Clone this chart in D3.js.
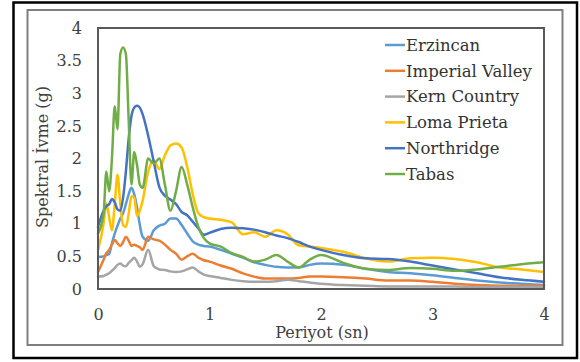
<!DOCTYPE html>
<html>
<head>
<meta charset="utf-8">
<script src="https://cdn.jsdelivr.net/npm/d3@7"></script>
<style>
  html, body { margin: 0; padding: 0; background: #fff; }
  svg { display: block; font-family: "DejaVu Serif", serif; }
</style>
</head>
<body>
<div id="chart"></div>
<script>
// Period grid (sn)
const periods = [0, 0.05, 0.075, 0.1, 0.125, 0.15, 0.175, 0.2, 0.225, 0.25, 0.275, 0.3, 0.325, 0.35, 0.375, 0.4,
  0.45, 0.5, 0.55, 0.6, 0.65, 0.7, 0.75, 0.8, 0.85, 0.9, 0.95, 1.0, 1.1, 1.2, 1.3, 1.4, 1.5, 1.6, 1.7,
  1.8, 1.9, 2.0, 2.2, 2.4, 2.6, 2.8, 3.0, 3.2, 3.4, 3.6, 3.8, 4.0];

const seriesNames = ["Erzincan", "Imperial Valley", "Kern Country", "Loma Prieta", "Northridge", "Tabas"];
const seriesColors = ["#5B9BD5", "#ED7D31", "#A5A5A5", "#FFC000", "#4472C4", "#70AD47"];

// Spectral acceleration (g)
const erzincan = [0.49, 0.5, 0.52, 0.54, 0.7, 0.85, 0.97, 1.08, 1.16, 1.3, 1.45, 1.55, 1.45, 1.25, 0.98, 0.8,
  0.74, 0.9, 0.97, 1.0, 1.08, 1.08, 0.98, 0.85, 0.73, 0.68, 0.66, 0.65, 0.6, 0.54, 0.48, 0.41, 0.37, 0.34, 0.33,
  0.33, 0.37, 0.39, 0.37, 0.31, 0.26, 0.24, 0.21, 0.17, 0.13, 0.1, 0.08, 0.06];
const imperialValley = [0.26, 0.45, 0.55, 0.6, 0.68, 0.75, 0.7, 0.66, 0.72, 0.8, 0.74, 0.66, 0.68, 0.66, 0.64, 0.6,
  0.8, 0.76, 0.74, 0.68, 0.6, 0.54, 0.45, 0.5, 0.54, 0.48, 0.44, 0.42, 0.36, 0.31, 0.24, 0.19, 0.16, 0.16, 0.16,
  0.17, 0.19, 0.19, 0.18, 0.16, 0.13, 0.13, 0.11, 0.08, 0.06, 0.05, 0.05, 0.05];
const kernCountry = [0.19, 0.2, 0.22, 0.24, 0.28, 0.32, 0.37, 0.39, 0.36, 0.35, 0.4, 0.44, 0.48, 0.42, 0.34, 0.38,
  0.6, 0.35, 0.3, 0.29, 0.27, 0.26, 0.27, 0.3, 0.33, 0.27, 0.22, 0.2, 0.17, 0.14, 0.12, 0.11, 0.11, 0.12, 0.14,
  0.12, 0.1, 0.08, 0.06, 0.05, 0.04, 0.04, 0.04, 0.04, 0.03, 0.03, 0.03, 0.03];
const lomaPrieta = [0.6, 1.0, 1.31, 1.1, 0.9, 1.3, 1.75, 1.3, 0.98, 0.95, 1.15, 1.42, 1.4, 1.12, 1.2, 1.35,
  1.8, 1.97, 1.84, 2.05, 2.2, 2.23, 2.17, 1.87, 1.45, 1.16, 1.1, 1.08, 1.06, 1.02, 0.84, 0.87, 0.8, 0.9, 0.84,
  0.67, 0.65, 0.63, 0.57, 0.47, 0.42, 0.47, 0.48, 0.46, 0.41, 0.33, 0.3, 0.26];
const northridge = [0.95, 1.2, 1.27, 1.3, 1.38, 1.33, 1.22, 1.2, 1.4, 1.8, 2.3, 2.65, 2.78, 2.81, 2.78, 2.68,
  2.35, 1.95, 1.56, 1.43, 1.37, 1.3, 1.18, 1.13, 1.03, 0.93, 0.83, 0.86, 0.92, 0.94, 0.93, 0.91, 0.87, 0.82, 0.78,
  0.72, 0.65, 0.6, 0.52, 0.47, 0.46, 0.42, 0.36, 0.3, 0.24, 0.18, 0.14, 0.11];
const tabas = [0.85, 1.15, 1.8, 1.5, 2.0, 2.8, 2.45, 3.6, 3.7, 3.6, 2.6, 1.6, 2.1, 1.9, 1.6, 1.55,
  2.0, 1.92, 2.0, 1.6, 1.2, 1.5, 1.87, 1.6, 1.25, 0.95, 0.78, 0.7, 0.65, 0.55, 0.49, 0.42, 0.45, 0.52, 0.42,
  0.33, 0.45, 0.52, 0.4, 0.31, 0.29, 0.32, 0.31, 0.28, 0.3, 0.34, 0.38, 0.41];

const seriesValues = [erzincan, imperialValley, kernCountry, lomaPrieta, northridge, tabas];

const xTicks = [0, 1, 2, 3, 4];
const yTicks = [0, 0.5, 1, 1.5, 2, 2.5, 3, 3.5, 4];

const width = 580;
const height = 362;
const plot = { left: 98, right: 544, top: 28, bottom: 289 };

const svg = d3.select("#chart").append("svg")
  .attr("width", width)
  .attr("height", height);

svg.append("rect").attr("width", width).attr("height", height).attr("fill", "#fff");

// outer black frame and inner grey chart border
svg.append("rect")
  .attr("x", 13.5).attr("y", 2.5).attr("width", 563.5).attr("height", 355.5)
  .attr("fill", "none").attr("stroke", "#000").attr("stroke-width", 2.5);
svg.append("rect")
  .attr("x", 27.5).attr("y", 10).attr("width", 535).attr("height", 335)
  .attr("fill", "none").attr("stroke", "#7f7f7f").attr("stroke-width", 2);

const x = d3.scaleLinear().domain([0, 4]).range([plot.left, plot.right]);
const y = d3.scaleLinear().domain([0, 4]).range([plot.bottom, plot.top]);

// axes (labels only, frame drawn separately)
svg.append("g")
  .attr("transform", `translate(0,${plot.bottom})`)
  .call(d3.axisBottom(x).tickValues(xTicks).tickSize(0).tickPadding(20).tickFormat(d3.format("")))
  .call(g => g.select(".domain").remove())
  .call(g => g.selectAll("text").attr("fill", "#404040").style("font-size", "16px").style("font-family", "DejaVu Serif"));

svg.append("g")
  .attr("transform", `translate(${plot.left},0)`)
  .call(d3.axisLeft(y).tickValues(yTicks).tickSize(0).tickPadding(16).tickFormat(d3.format("")))
  .call(g => g.select(".domain").remove())
  .call(g => g.selectAll("text").attr("fill", "#404040").style("font-size", "16px").style("font-family", "DejaVu Serif"));

// series lines
const line = d3.line()
  .x(d => x(d[0]))
  .y(d => y(d[1]))
  .curve(d3.curveMonotoneX);

svg.append("g")
  .attr("fill", "none")
  .attr("stroke-width", 2.5)
  .attr("stroke-linejoin", "round")
  .attr("stroke-linecap", "round")
  .selectAll("path")
  .data(seriesValues)
  .join("path")
  .attr("stroke", (d, i) => seriesColors[i])
  .attr("d", vals => line(periods.map((p, j) => [p, vals[j]])));

// plot frame
svg.append("rect")
  .attr("x", plot.left).attr("y", plot.top)
  .attr("width", plot.right - plot.left).attr("height", plot.bottom - plot.top)
  .attr("fill", "none").attr("stroke", "#595959").attr("stroke-width", 2);

// axis titles
svg.append("text")
  .attr("x", 322).attr("y", 338)
  .attr("text-anchor", "middle")
  .attr("fill", "#404040")
  .style("font-size", "16px")
  .text("Periyot (sn)");

svg.append("text")
  .attr("transform", "translate(48,157) rotate(-90)")
  .attr("text-anchor", "middle")
  .attr("fill", "#404040")
  .style("font-size", "16px")
  .text("Spektral İvme (g)");

// legend
const legend = svg.append("g")
  .selectAll("g")
  .data(seriesNames)
  .join("g")
  .attr("transform", (d, i) => `translate(385,${45 + i * 25.8})`);

legend.append("line")
  .attr("x1", 0).attr("x2", 20)
  .attr("stroke", (d, i) => seriesColors[i])
  .attr("stroke-width", 2.5);

legend.append("text")
  .attr("x", 21).attr("dy", "0.35em")
  .attr("fill", "#333")
  .style("font-size", "16.5px")
  .text(d => d);
</script>
</body>
</html>
